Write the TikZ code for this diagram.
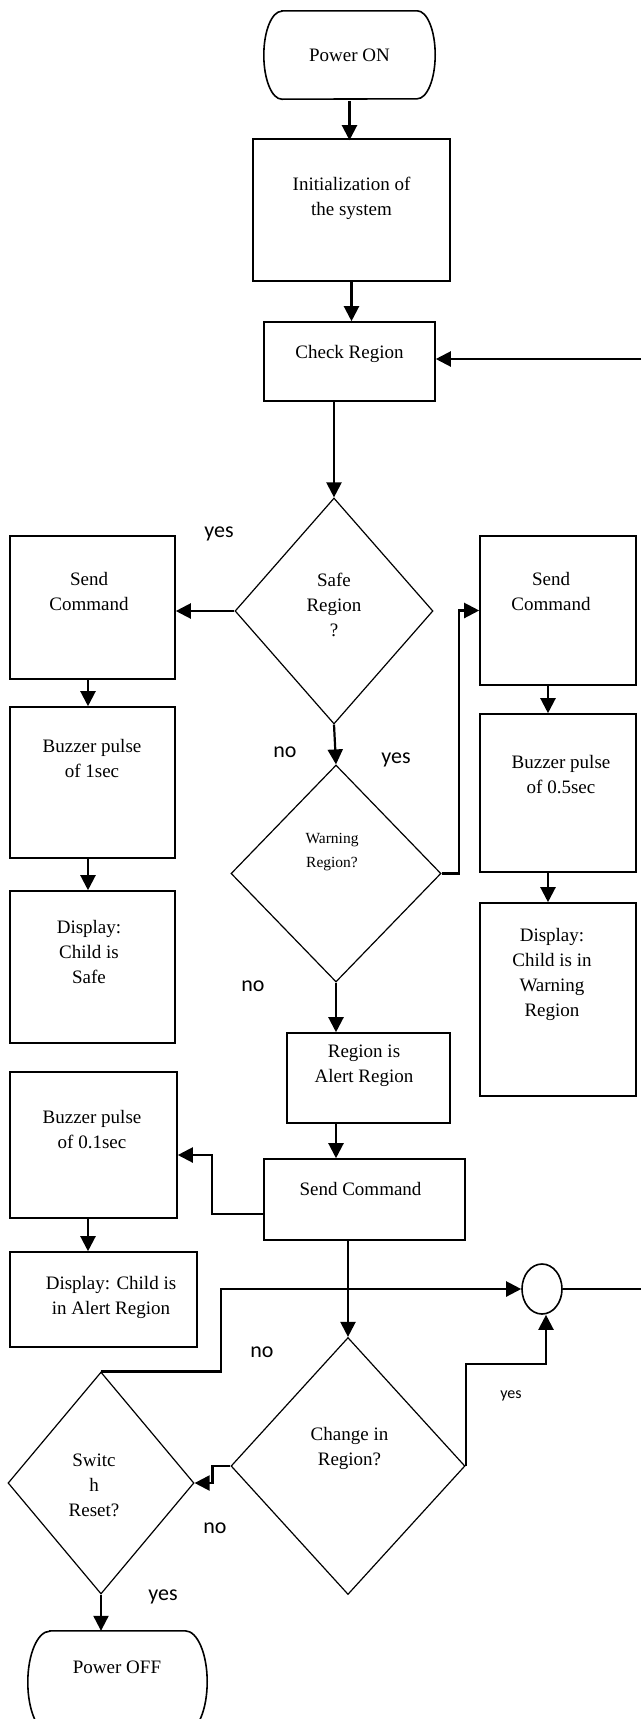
\documentclass[tikz,border=0pt]{standalone}
\usepackage{fontspec}
\setmainfont{Liberation Serif}
\newfontfamily\lblfont{Carlito}
\usetikzlibrary{arrows.meta,shapes.geometric}

\begin{document}
\begin{tikzpicture}[x=1pt, y=-1pt,
    every node/.style={font=\fontsize{19}{25}\selectfont, align=center, inner sep=0pt},
    box/.style={draw, line width=1.6pt, rectangle},
    term/.style={rectangle},
    termline/.style={line width=1.6pt},
    dec/.style={draw, line width=1.2pt, diamond},
    yn/.style={font=\lblfont\fontsize{22}{26}\selectfont},
    arr/.style={line width=2.2pt, -{Triangle[length=15pt,width=15pt]}},
    ln/.style={line width=2.2pt}]

    % Page
    \path[use as bounding box, fill=white] (0,0) rectangle (641,1719);

    % Start and set up
    \node[term, minimum width=171pt, minimum height=88pt] (pon) at (349.5,55) {Power ON};
    \draw[termline] ([xshift=18pt]pon.north west) -- ([xshift=-18pt]pon.north east)
        arc[start angle=90, end angle=-90, x radius=18pt, y radius=44pt]
        -- ([xshift=18pt]pon.south west)
        arc[start angle=270, end angle=90, x radius=18pt, y radius=44pt] -- cycle;
    \node[box, minimum width=197pt, minimum height=142pt] (init) at (351.5,210) {};
    \node (initT) at (351.5,198.5) {Initialization of\\the system};
    \node[box, minimum width=171pt, minimum height=79pt] (chk) at (349.5,361.5) {};
    \node (chkT) at (349.5,354) {Check Region};

    % Safe region test
    \node[dec, minimum width=198pt, minimum height=226pt] (safe) at (334,611) {};
    \node (safeT) at (334,605) {Safe\\Region\\?};

    % Safe branch (left)
    \node[box, minimum width=165pt, minimum height=143pt] (scL) at (92.5,607.5) {};
    \node (scLT) at (89,591.5) {Send\\Command};
    \node[box, minimum width=165pt, minimum height=151pt] (bz1) at (92.5,782.5) {};
    \node (bz1T) at (92,758.5) {Buzzer pulse\\of 1sec};
    \node[box, minimum width=165pt, minimum height=152pt] (dsafe) at (92.5,967) {};
    \node (dsafeT) at (89,951.5) {Display:\\Child is\\Safe};

    % Warning region test
    \node[dec, minimum width=210pt, minimum height=217pt] (warn) at (336,873.5) {};
    \node[font=\fontsize{15.5}{24}\selectfont] (warnT) at (332,852.5) {Warning\\Region?};

    % Warning branch (right)
    \node[box, minimum width=156pt, minimum height=149pt] (scR) at (558,610.5) {};
    \node (scRT) at (551,591.5) {Send\\Command};
    \node[box, minimum width=156pt, minimum height=158pt] (bz05) at (558,793) {};
    \node (bz05T) at (561,774.5) {Buzzer pulse\\of 0.5sec};
    \node[box, minimum width=156pt, minimum height=193pt] (dwarn) at (558,999.5) {};
    \node (dwarnT) at (552,974.5) {Display:\\Child is in\\Warning\\Region};

    % Alert branch
    \node[box, minimum width=163pt, minimum height=90pt] (alert) at (368.5,1078) {};
    \node (alertT) at (364,1065.5) {Region is\\Alert Region};
    \node[box, minimum width=201pt, minimum height=81pt] (scB) at (364.5,1199.5) {};
    \node (scBT) at (360.5,1189) {Send Command};
    \node[box, minimum width=167pt, minimum height=146pt] (bz01) at (93.5,1145) {};
    \node (bz01T) at (92,1129.5) {Buzzer pulse\\of 0.1sec};
    \node[box, minimum width=187pt, minimum height=95pt] (dalert) at (103.5,1299.5) {};
    \node (dalertT) at (111,1297.5) {Display: Child is\\in Alert Region};

    % Junction
    \node[draw, line width=1.6pt, ellipse, minimum width=40pt, minimum height=50pt] (circ) at (542,1289) {};

    % Change and reset tests
    \node[dec, minimum width=234pt, minimum height=257pt] (chg) at (348,1466) {};
    \node (chgT) at (349.5,1448) {Change in\\Region?};
    \node[dec, minimum width=186pt, minimum height=222pt] (sw) at (101,1483) {};
    \node (swT) at (94,1485) {Switc\\h\\Reset?};
    \node[term, minimum width=179pt, minimum height=102pt] (poff) at (117.5,1682) {};
    \draw[termline] ([xshift=22pt]poff.north west) -- ([xshift=-22pt]poff.north east)
        arc[start angle=90, end angle=-90, x radius=22pt, y radius=51pt]
        -- ([xshift=22pt]poff.south west)
        arc[start angle=270, end angle=90, x radius=22pt, y radius=51pt] -- cycle;
    \node (poffT) at (117,1667) {Power OFF};

    % Loop ends at the page edge
    \coordinate (rin) at (641,359);
    \coordinate (rout) at (641,1289);

    % Connectors
    \draw[arr] ([yshift=-2pt]pon.south) -- ([yshift=-2pt]pon.south |- init.north);
    \draw[arr] (init.south) -- (init.south |- chk.north);
    \draw[arr] (rin) -- (rin -| chk.east);
    \draw[arr] (safe.north |- chk.south) -- (safe.north);
    \draw[arr] (safe.west) -- (safe.west -| scL.east);
    \draw[arr] ([xshift=-4.5pt]scL.south) -- ([xshift=-4.5pt]bz1.north);
    \draw[arr] ([xshift=-4.5pt]bz1.south) -- ([xshift=-4.5pt]dsafe.north);
    \draw[arr] (safe.south) -- (warn.north);
    \draw[arr] (warn.east) -- ++(17,0) |- (scR.west);
    \draw[arr] ([xshift=-10pt]scR.south) -- ([xshift=-10pt]bz05.north);
    \draw[arr] ([xshift=-10pt]bz05.south) -- ([xshift=-10pt]dwarn.north);
    \draw[arr] (warn.south) -- (warn.south |- alert.north);
    \draw[arr] (warn.south |- alert.south) -- (warn.south |- scB.north);
    \draw[arr] ([yshift=-14.5pt]scB.west) -- ++(-51,0) |- ([yshift=-10pt]bz01.east);
    \draw[arr] ([xshift=-5.5pt]bz01.south) -- ([xshift=-5.5pt]bz01.south |- dalert.north);
    \draw[arr] (chg.north |- scB.south) -- (chg.north);
    \draw[arr] (sw.north) -- ++(120,0) |- (circ.west);
    \draw[ln] (circ.east) -- (rout);
    \draw[arr] (chg.east) -- ++(0,-102) -| ([xshift=4pt]circ.south);
    \draw[arr] (chg.west) -- ++(-18,0) |- (sw.east);
    \draw[arr] (sw.south) -- (sw.south |- poff.north);

    % Branch labels
    \node[yn] (lyes1) at (219,534) {yes};
    \node[yn] (lno1) at (285,752) {no};
    \node[yn] (lyes2) at (396,760) {yes};
    \node[yn] (lno2) at (253,986) {no};
    \node[yn] (lno3) at (262,1352) {no};
    \node[yn, font=\lblfont\fontsize{16}{18}\selectfont] (lyes3) at (511,1396) {yes};
    \node[yn] (lno4) at (215,1528) {no};
    \node[yn] (lyes4) at (163,1597) {yes};

\end{tikzpicture}
\end{document}
